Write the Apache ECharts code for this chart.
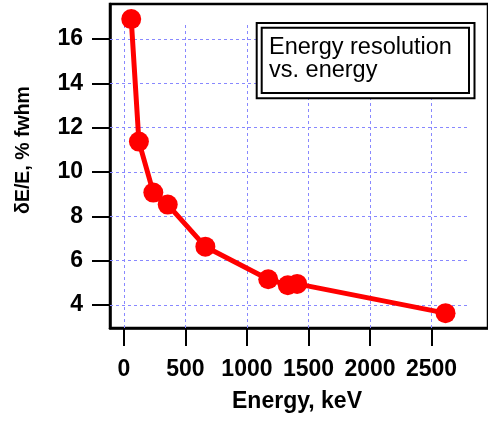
<!DOCTYPE html>
<html>
<head>
<meta charset="utf-8">
<script src="https://cdn.jsdelivr.net/npm/echarts@6/dist/echarts.min.js"></script>
<style>
html,body{margin:0;padding:0;background:#fff;}
#c{width:488px;height:421px;}
</style>
</head>
<body>
<div id="c"></div>
<script>
// Data
const energyKeV = [59.5, 122, 239, 356, 662, 1173, 1332, 1408, 2614];
const resolutionPct = [16.9, 11.37, 9.07, 8.53, 6.63, 5.16, 4.89, 4.95, 3.63];
const xTicks = [0, 500, 1000, 1500, 2000, 2500];
const yTicks = [4, 6, 8, 10, 12, 14, 16];
const xName = 'Energy, keV';
const yName = 'δE/E, % fwhm';
const boxText = 'Energy resolution\nvs. energy';

// axis ranges
const xMin = -113, xMax = 2959;
const yMin = 2.96, yMax = 17.58;
// extent of the dashed grid lines (data units)
const gridXRight = 2801, gridYTop = 16.77;

const FONT = '"Liberation Sans", Arial, sans-serif';
const points = energyKeV.map((e, i) => [e, resolutionPct[i]]);

const gridLines = [];
xTicks.forEach(x => gridLines.push([{coord: [x, yMin]}, {coord: [x, gridYTop]}]));
yTicks.forEach(y => gridLines.push([{coord: [xMin, y]}, {coord: [gridXRight, y]}]));

const chart = echarts.init(document.getElementById('c'), null, {renderer: 'canvas'});
chart.setOption({
  animation: false,
  backgroundColor: '#fff',
  grid: {left: 110, top: 4, right: -10, bottom: 93, show: true, borderColor: '#000', borderWidth: 2.5, backgroundColor: 'transparent'},
  xAxis: {
    type: 'value', min: xMin, max: xMax,
    name: xName, nameLocation: 'middle', nameGap: 62,
    nameTextStyle: {fontFamily: FONT, fontWeight: 'bold', fontSize: 23, color: '#000', padding: [0, 4, 0, 0]},
    axisLine: {show: true, onZero: false, lineStyle: {color: '#000', width: 2.5}},
    axisTick: {show: true, length: 18, lineStyle: {color: '#000', width: 2}, customValues: xTicks},
    axisLabel: {fontFamily: FONT, fontWeight: 'bold', fontSize: 23, color: '#000', margin: 30, customValues: xTicks, formatter: v => String(v)},
    splitLine: {show: false}
  },
  yAxis: {
    type: 'value', min: yMin, max: yMax,
    name: yName, nameLocation: 'middle', nameGap: 76, nameRotate: 90,
    nameTextStyle: {fontFamily: FONT, fontWeight: 'bold', fontSize: 19.5, color: '#000', padding: [0, 0, 0, 32]},
    axisLine: {show: true, onZero: false, lineStyle: {color: '#000', width: 2.5}},
    axisTick: {show: true, length: 18, lineStyle: {color: '#000', width: 2}, customValues: yTicks},
    axisLabel: {fontFamily: FONT, fontWeight: 'bold', fontSize: 23, color: '#000', margin: 27, customValues: yTicks, formatter: v => String(v)},
    splitLine: {show: false}
  },
  series: [{
    type: 'line',
    data: points,
    z: 3,
    symbol: 'circle',
    symbolSize: 20,
    lineStyle: {color: '#ff0000', width: 5},
    itemStyle: {color: '#ff0000'},
    markLine: {
      silent: true, z: 1, animation: false,
      symbol: ['none', 'none'],
      label: {show: false},
      lineStyle: {color: '#8888ff', width: 1, type: [3, 3]},
      emphasis: {disabled: true},
      data: gridLines
    }
  }],
  graphic: [
    {type: 'rect', z: 100, shape: {x: 256.7, y: 23, width: 217.8, height: 75.2}, style: {fill: '#fff', stroke: '#000', lineWidth: 2}},
    {type: 'rect', z: 101, shape: {x: 261.7, y: 27.7, width: 207.3, height: 65.3}, style: {fill: 'none', stroke: '#000', lineWidth: 2}},
    {type: 'text', z: 102, x: 269, y: 36.5, style: {text: boxText, font: 'normal 23.5px ' + FONT, fill: '#000', lineHeight: 23, textVerticalAlign: 'top'}}
  ]
});
</script>
</body>
</html>
